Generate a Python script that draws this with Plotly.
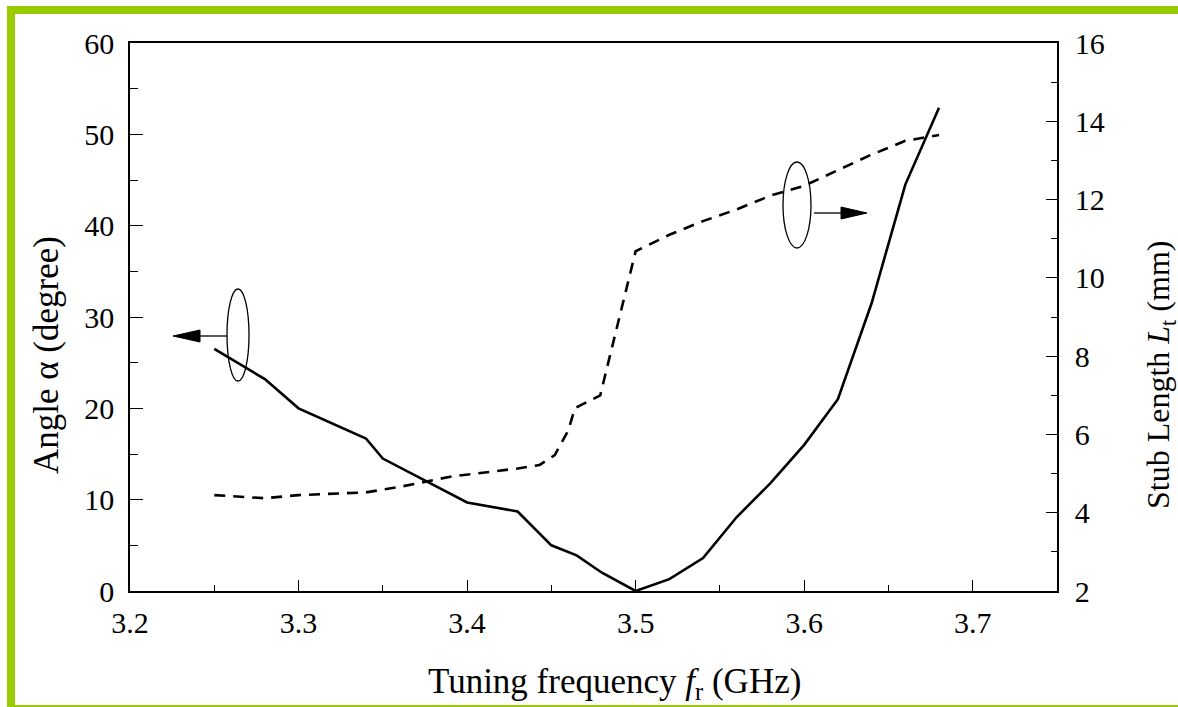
import plotly.graph_objects as go

# ---- data ----
freq_angle = [3.25, 3.28, 3.30, 3.34, 3.35, 3.40, 3.43, 3.45, 3.465, 3.48, 3.50,
              3.52, 3.54, 3.56, 3.58, 3.60, 3.62, 3.64, 3.66, 3.68]
angle_deg = [26.5, 23.2, 20.0, 16.7, 14.5, 9.7, 8.7, 5.0, 3.9, 2.0, 0.0,
             1.3, 3.6, 8.1, 11.8, 16.0, 21.0, 31.5, 44.5, 52.9]

freq_stub = [3.25, 3.28, 3.30, 3.34, 3.36, 3.39, 3.43, 3.443, 3.452, 3.46, 3.464,
             3.479, 3.50, 3.52, 3.54, 3.56, 3.58, 3.60, 3.62, 3.64, 3.66, 3.68]
stub_mm = [4.45, 4.37, 4.45, 4.52, 4.66, 4.92, 5.13, 5.22, 5.47, 6.1, 6.67,
           7.0, 10.68, 11.1, 11.45, 11.75, 12.1, 12.35, 12.75, 13.15, 13.5, 13.65]

x_ticks = [3.2, 3.3, 3.4, 3.5, 3.6, 3.7]
y_left_ticks = [0, 10, 20, 30, 40, 50, 60]
y_right_ticks = [2, 4, 6, 8, 10, 12, 14, 16]

# ---- layout geometry ----
W, H = 1178, 707
L, R, T, B = 130, 1057, 43, 591
PW, PH = R - L, B - T


def px(x):
    return (x - L) / PW


def py(y):
    return (B - y) / PH


FONT = "'Liberation Serif', 'Times New Roman', Times, 'DejaVu Serif', serif"
GREEN = "#99CC00"

fig = go.Figure()
fig.add_trace(go.Scatter(x=freq_angle, y=angle_deg, mode="lines",
                         line=dict(color="black", width=2.6), yaxis="y",
                         showlegend=False))
fig.add_trace(go.Scatter(x=freq_stub, y=stub_mm, mode="lines",
                         line=dict(color="black", width=2.6, dash="11px,8px"),
                         yaxis="y2", showlegend=False))

shapes = []
# green frame
shapes.append(dict(type="rect", xref="paper", yref="paper", x0=px(7), x1=px(15),
                   y0=py(707), y1=py(6), fillcolor=GREEN, line_width=0, layer="below"))
shapes.append(dict(type="rect", xref="paper", yref="paper", x0=px(7), x1=px(1178),
                   y0=py(14), y1=py(6), fillcolor=GREEN, line_width=0, layer="below"))
shapes.append(dict(type="rect", xref="paper", yref="paper", x0=px(7), x1=px(1178),
                   y0=py(707), y1=py(705), fillcolor=GREEN, line_width=0, layer="below"))

# ellipse markers and arrows
shapes.append(dict(type="circle", xref="paper", yref="paper", x0=px(227), x1=px(249),
                   y0=py(381), y1=py(289), line=dict(color="black", width=1.3)))
shapes.append(dict(type="line", xref="paper", yref="paper", x0=px(227), x1=px(198),
                   y0=py(336), y1=py(336), line=dict(color="black", width=1.3)))
shapes.append(dict(type="path", xref="paper", yref="paper",
                   path=f"M {px(173)},{py(336)} L {px(200)},{py(330)} L {px(200)},{py(342)} Z",
                   fillcolor="black", line=dict(color="black", width=1)))

shapes.append(dict(type="circle", xref="paper", yref="paper", x0=px(783), x1=px(811),
                   y0=py(248), y1=py(162), line=dict(color="black", width=1.3)))
shapes.append(dict(type="line", xref="paper", yref="paper", x0=px(814), x1=px(843),
                   y0=py(213), y1=py(213), line=dict(color="black", width=1.3)))
shapes.append(dict(type="path", xref="paper", yref="paper",
                   path=f"M {px(867)},{py(213)} L {px(841)},{py(207)} L {px(841)},{py(219)} Z",
                   fillcolor="black", line=dict(color="black", width=1)))

annotations = [
    dict(text="Tuning frequency <i>f</i><sub>r</sub> (GHz)", xref="paper", yref="paper",
         x=px(614), y=py(683), xanchor="center", yanchor="middle", showarrow=False,
         font=dict(family=FONT, size=35, color="black")),
    dict(text="Angle α (degree)", xref="paper", yref="paper", textangle=-90,
         x=px(46), y=py(355), xanchor="center", yanchor="middle", showarrow=False,
         font=dict(family=FONT, size=35, color="black")),
    dict(text="Stub Length <i>L</i><sub>t</sub> (mm)", xref="paper", yref="paper", textangle=-90,
         x=px(1160), y=py(375), xanchor="center", yanchor="middle", showarrow=False,
         font=dict(family=FONT, size=32, color="black")),
]

tickfont = dict(family=FONT, size=30, color="black")

fig.update_layout(
    width=W, height=H,
    margin=dict(l=L, r=W - R, t=T, b=H - B, pad=0),
    paper_bgcolor="white", plot_bgcolor="white",
    font=dict(family=FONT),
    shapes=shapes, annotations=annotations,
    xaxis=dict(range=[3.2, 3.75], tickvals=x_ticks, ticktext=[str(v) for v in x_ticks],
               ticks="inside", ticklen=11, tickwidth=1.3, tickcolor="black",
               minor=dict(dtick=0.05, tick0=3.2, ticks="inside", ticklen=6,
                          tickwidth=1.3, tickcolor="black"),
               showline=True, linecolor="black", linewidth=1.6, mirror=True,
               showgrid=False, zeroline=False, tickfont=tickfont, ticklabelstandoff=4),
    yaxis=dict(range=[0, 60], tickvals=y_left_ticks, ticks="inside", ticklen=13,
               tickwidth=1.3, tickcolor="black",
               minor=dict(dtick=5, tick0=0, ticks="inside", ticklen=8,
                          tickwidth=1.3, tickcolor="black"),
               showline=True, linecolor="black", linewidth=1.6,
               showgrid=False, zeroline=False, tickfont=tickfont, ticklabelstandoff=8),
    yaxis2=dict(range=[2, 16], tickvals=y_right_ticks, overlaying="y", side="right",
                ticks="inside", ticklen=11, tickwidth=1.3, tickcolor="black",
                minor=dict(dtick=1, tick0=2, ticks="inside", ticklen=6,
                           tickwidth=1.3, tickcolor="black"),
                showline=True, linecolor="black", linewidth=1.6,
                showgrid=False, zeroline=False, tickfont=tickfont, ticklabelstandoff=10),
)

fig.write_html("out.html")
